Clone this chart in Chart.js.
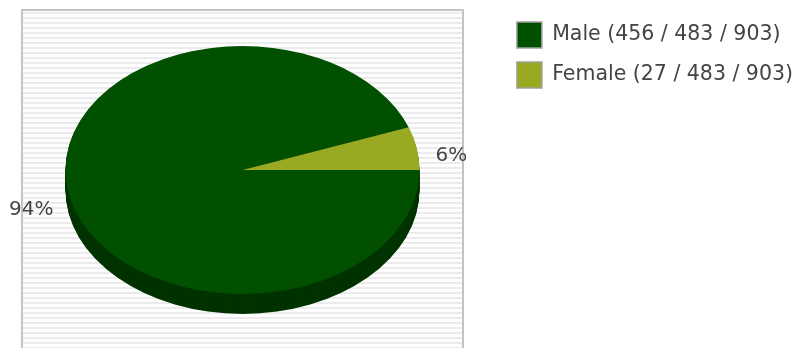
<!DOCTYPE html>
<html lang="en">
<head>
  <meta charset="UTF-8" />
  <title>Gender split</title>
  <script src="https://cdn.jsdelivr.net/npm/chart.js"></script>
  <style>
    body { margin: 0; background: #fff; }
  </style>
</head>
<body>
  <canvas id="pie" width="803" height="348"></canvas>

  <script>
    // data
    const categories = ['Male', 'Female'];
    const counts = [456, 27];
    const groupTotal = 483;
    const grandTotal = 903;

    const topColors = ['#005000', '#99aa22'];
    const sideColors = ['#003300', '#5f6a12'];

    const FONT = 'DejaVu Sans';
    const tilt = 0.70;   // vertical squash of the pie
    const depth = 20;    // thickness of the 3d rim
    const frame = { left: 22, top: 10, right: 463, bottom: 352 };

    // striped plot frame behind the pie
    const plotBox = {
      id: 'plotBox',
      beforeDraw(chart) {
        const ctx = chart.ctx;
        const { left, top, right, bottom } = frame;
        ctx.save();
        ctx.fillStyle = '#ffffff';
        ctx.fillRect(left, top, right - left, bottom - top);
        ctx.fillStyle = '#ebebeb';
        for (let y = top + 2; y < bottom; y += 5) {
          ctx.fillRect(left, y, right - left, 2);
        }
        ctx.strokeStyle = '#c4c4c4';
        ctx.lineWidth = 2;
        ctx.strokeRect(left, top, right - left, bottom - top);
        ctx.restore();
      }
    };

    // squash the pie into an ellipse centred in the frame and give it a rim
    const pie3d = {
      id: 'pie3d',
      beforeDatasetsDraw(chart) {
        const ctx = chart.ctx;
        const arcs = chart.getDatasetMeta(0).data;
        const { x, y } = arcs[0];
        const cx = (frame.left + frame.right) / 2;
        for (let d = depth; d >= 1; d--) {
          ctx.save();
          ctx.translate(cx, y + d);
          ctx.scale(1, tilt);
          ctx.translate(-x, -y);
          arcs.forEach((arc, i) => {
            ctx.beginPath();
            ctx.moveTo(x, y);
            ctx.arc(x, y, arc.outerRadius, arc.startAngle, arc.endAngle);
            ctx.closePath();
            ctx.fillStyle = sideColors[i];
            ctx.fill();
          });
          ctx.restore();
        }
        ctx.save();
        ctx.translate(cx, y);
        ctx.scale(1, tilt);
        ctx.translate(-x, -y);
      },
      afterDatasetsDraw(chart) {
        const ctx = chart.ctx;
        ctx.restore();
        const arcs = chart.getDatasetMeta(0).data;
        const total = counts.reduce((a, b) => a + b, 0);
        const cx = (frame.left + frame.right) / 2;
        ctx.save();
        ctx.font = '20px "' + FONT + '"';
        ctx.fillStyle = '#444444';
        ctx.textBaseline = 'middle';
        arcs.forEach((arc, i) => {
          const mid = (arc.startAngle + arc.endAngle) / 2;
          const left = Math.cos(mid) < 0;
          const r = arc.outerRadius + (left ? 15 : 19);
          const px = cx + r * Math.cos(mid);
          const py = arc.y + r * tilt * Math.sin(mid) + (left ? 16 : 10);
          ctx.textAlign = left ? 'right' : 'left';
          ctx.fillText(Math.round(counts[i] / total * 100) + '%', px, py);
        });
        ctx.restore();
      }
    };

    const ctx = document.getElementById('pie').getContext('2d');
    const chart = new Chart(ctx, {
      type: 'pie',
      data: {
        labels: categories.map((c, i) => `${c} (${counts[i]} / ${groupTotal} / ${grandTotal})`),
        datasets: [{
          data: counts,
          backgroundColor: topColors,
          borderWidth: 0
        }]
      },
      options: {
        responsive: false,
        animation: false,
        rotation: 90,
        radius: 177,
        layout: { padding: { left: 0, top: 8, bottom: 16, right: 0 } },
        plugins: {
          tooltip: { enabled: false },
          legend: {
            position: 'right',
            align: 'start',
            labels: {
              boxWidth: 25,
              boxHeight: 26,
              padding: 14,
              color: '#444444',
              font: { family: FONT, size: 20.5 },
              generateLabels(chart) {
                return Chart.overrides.pie.plugins.legend.labels.generateLabels(chart).map(item => {
                  item.strokeStyle = '#a0a0a0';
                  item.lineWidth = 1.5;
                  return item;
                });
              }
            }
          }
        }
      },
      plugins: [plotBox, pie3d]
    });
  </script>
</body>
</html>
